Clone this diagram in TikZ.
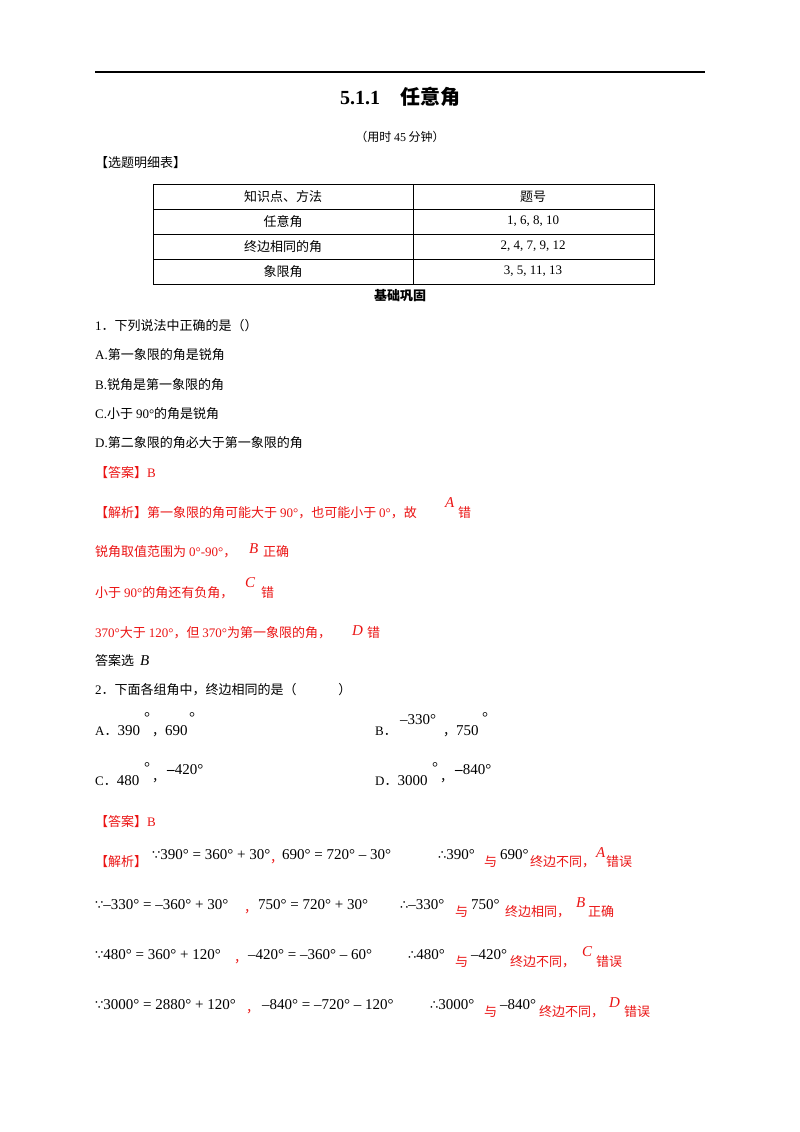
\documentclass[tikz,border=0pt]{standalone}
\usepackage{fontspec}
\setmainfont{Noto Sans CJK SC}
\newfontfamily\lib{Liberation Serif}
\newfontfamily\dv{DejaVu Sans}
\definecolor{ans}{RGB}{235,20,20}
\newcommand{\M}[1]{{\lib\fontsize{15}{17}\selectfont #1}}
\newcommand{\I}[1]{{\lib\itshape\fontsize{15}{17}\selectfont #1}}
\begin{document}
\begin{tikzpicture}[x=1pt,y=-1pt,
 t/.style={anchor=west,inner sep=0pt,font=\fontsize{13}{15}\selectfont},
 r/.style={t,text=ans},
 c/.style={inner sep=0pt,font=\fontsize{13}{15}\selectfont}]
\useasboundingbox[fill=white] (0,0) rectangle (800,1132);
\draw[line width=1.2pt] (95,72) -- (705,72);
\node[c,font=\fontsize{20}{22}\selectfont\bfseries] (title) at (400,97) {{\lib\bfseries 5.1.1}\quad 任意角};
\node[c,font=\fontsize{12}{14}\selectfont] (time) at (400,137) {（用时 {\lib 45} 分钟）};
\node[t] (sel) at (95,163) {【选题明细表】};
% table
\draw[line width=0.8pt] (153,184) rectangle (654,284);
\foreach \yy in {209,234,259} \draw[line width=0.8pt] (153,\yy) -- (654,\yy);
\draw[line width=0.8pt] (413,184) -- (413,284);
\node[c] (h1) at (283,196.5) {知识点、方法};
\node[c] (h2) at (533,196.5) {题号};
\node[c] (r1) at (283,221.5) {任意角};
\node[c] (r1b) at (533,221.5) {\lib 1, 6, 8, 10};
\node[c] (r2) at (283,246.5) {终边相同的角};
\node[c] (r2b) at (533,246.5) {\lib 2, 4, 7, 9, 12};
\node[c] (r3) at (283,271.5) {象限角};
\node[c] (r3b) at (533,271.5) {\lib 3, 5, 11, 13};
\node[c,font=\fontsize{13}{15}\selectfont\bfseries] (jc) at (400,296) {基础巩固};
% Q1
\node[t] (q1) at (95,326) {{\lib 1}．下列说法中正确的是（）};
\node[t] (q1a) at (95,355) {{\lib A.}第一象限的角是锐角};
\node[t] (q1b) at (95,385) {{\lib B.}锐角是第一象限的角};
\node[t] (q1c) at (95,414) {{\lib C.}小于 {\lib 90°}的角是锐角};
\node[t] (q1d) at (95,443) {{\lib D.}第二象限的角必大于第一象限的角};
\node[r] (a1) at (95,473) {【答案】{\lib B}};
\node[r] (j1) at (95,513) {【解析】第一象限的角可能大于 {\lib 90°}，也可能小于 {\lib 0°}，故};
\node[t,text=ans] (j1A) at (445,503) {\I{A}};
\node[r] (j1e) at (458,513) {错};
\node[r] (j2) at (95,552) {锐角取值范围为 {\lib 0°-90°}，};
\node[t,text=ans] (j2B) at (249,549) {\I{B}};
\node[r] (j2e) at (263,552) {正确};
\node[r] (j3) at (95,593) {小于 {\lib 90°}的角还有负角，};
\node[t,text=ans] (j3C) at (245,583) {\I{C}};
\node[r] (j3e) at (261,593) {错};
\node[r] (j4) at (95,633) {{\lib 370°}大于 {\lib 120°}，但 {\lib 370°}为第一象限的角，};
\node[t,text=ans] (j4D) at (352,631) {\I{D}};
\node[r] (j4e) at (367,633) {错};
\node[t] (j5) at (95,661) {答案选};
\node[t] (j5B) at (140,661) {\I{B}};
% Q2
\node[t] (q2) at (95,690) {{\lib 2}．下面各组角中，终边相同的是（\hspace{3.2em}）};
\node[t] (q2a) at (95,731) {{\lib A}．\M{390}};
\node[t] (q2ad) at (144,718) {\M{°}};
\node[t] (q2ac) at (152,731) {，\M{690}};
\node[t] (q2ad2) at (189,718) {\M{°}};
\node[t] (q2b) at (375,731) {{\lib B}．};
\node[t] (q2bm) at (400,720) {\M{–330°}};
\node[t] (q2bc) at (443,731) {，\M{750}};
\node[t] (q2bd) at (482,718) {\M{°}};
\node[t] (q2c) at (95,781) {{\lib C}．\M{480}};
\node[t] (q2cd) at (144,768) {\M{°}};
\node[t] (q2cc) at (152,781) {，};
\node[t] (q2cm) at (167,770) {\M{\textbf{–}420°}};
\node[t] (q2d) at (375,781) {{\lib D}．\M{3000}};
\node[t] (q2dd) at (432,768) {\M{°}};
\node[t] (q2dc) at (440,781) {，};
\node[t] (q2dm) at (455,770) {\M{\textbf{–}840°}};
\node[r] (a2) at (95,822) {【答案】{\lib B}};
% jiexi lines
\node[r] (k1) at (95,862) {【解析】};
\node[t] (k1m) at (152,855) {{\dv∵}\M{390° = 360° + 30°}};
\node[r] (k1c) at (270,862) {，};
\node[t] (k1m2) at (282,855) {\M{690° = 720° – 30°}};
\node[t] (k1m3) at (438,855) {{\dv∴}\M{390°}};
\node[r] (k1y) at (484,862) {与};
\node[t] (k1m4) at (500,855) {\M{690°}};
\node[r] (k1t) at (530,862) {终边不同，};
\node[t,text=ans] (k1A) at (596,853) {\I{A}};
\node[r] (k1e) at (606,862) {错误};
\node[t] (k2m) at (95,905) {{\dv∵}\M{–330° = –360° + 30°}};
\node[r] (k2c) at (244,912) {，};
\node[t] (k2m2) at (258,905) {\M{750° = 720° + 30°}};
\node[t] (k2m3) at (400,905) {{\dv∴}\M{–330°}};
\node[r] (k2y) at (455,912) {与};
\node[t] (k2m4) at (471,905) {\M{750°}};
\node[r] (k2t) at (505,912) {终边相同，};
\node[t,text=ans] (k2B) at (576,903) {\I{B}};
\node[r] (k2e) at (588,912) {正确};
\node[t] (k3m) at (95,955) {{\dv∵}\M{480° = 360° + 120°}};
\node[r] (k3c) at (234,962) {，};
\node[t] (k3m2) at (248,955) {\M{–420° = –360° – 60°}};
\node[t] (k3m3) at (408,955) {{\dv∴}\M{480°}};
\node[r] (k3y) at (455,962) {与};
\node[t] (k3m4) at (471,955) {\M{–420°}};
\node[r] (k3t) at (510,962) {终边不同，};
\node[t,text=ans] (k3C) at (582,952) {\I{C}};
\node[r] (k3e) at (596,962) {错误};
\node[t] (k4m) at (95,1005) {{\dv∵}\M{3000° = 2880° + 120°}};
\node[r] (k4c) at (246,1012) {，};
\node[t] (k4m2) at (262,1005) {\M{–840° = –720° – 120°}};
\node[t] (k4m3) at (430,1005) {{\dv∴}\M{3000°}};
\node[r] (k4y) at (484,1012) {与};
\node[t] (k4m4) at (500,1005) {\M{–840°}};
\node[r] (k4t) at (539,1012) {终边不同，};
\node[t,text=ans] (k4D) at (609,1003) {\I{D}};
\node[r] (k4e) at (624,1012) {错误};
\end{tikzpicture}
\end{document}
